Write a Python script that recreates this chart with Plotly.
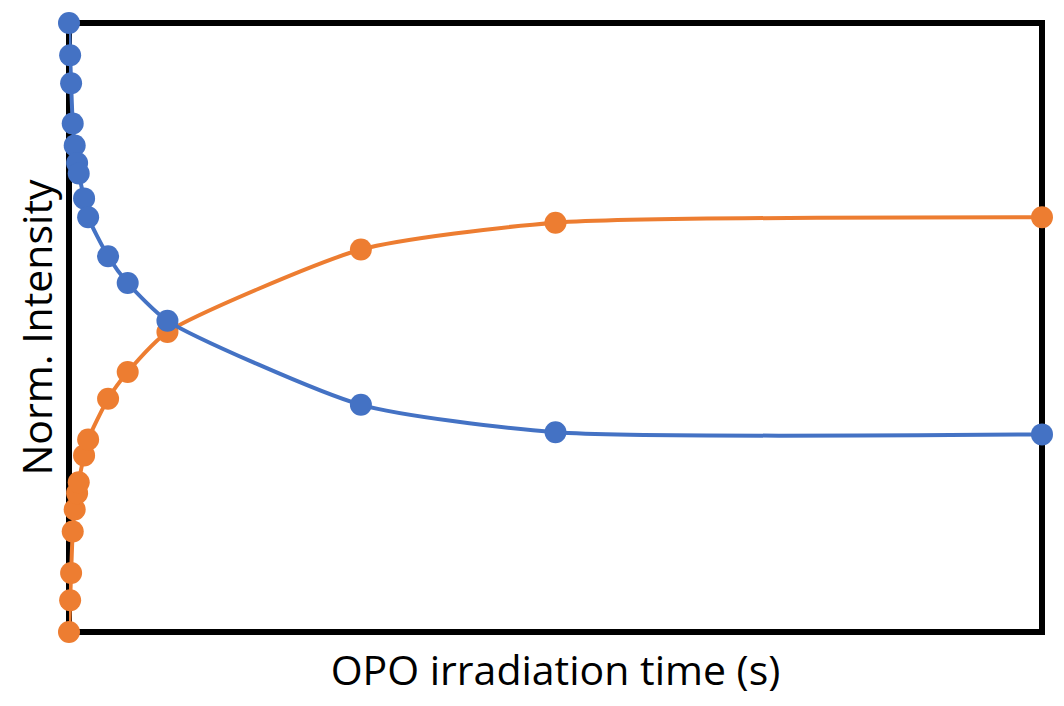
import plotly.graph_objects as go

# irradiation time (s)
time_s = [0, 0.7, 1.3, 2.3, 3.5, 5.0, 6.0, 9.3, 11.8, 24.1, 36.2, 60.7, 180, 300, 600]
# normalized intensity, decaying species (blue)
blue_vals = [1.0, 0.947, 0.901, 0.835, 0.799, 0.770, 0.753, 0.712, 0.681, 0.617, 0.573, 0.511, 0.373, 0.328, 0.3245]
# normalized intensity, growing species (orange)
orange_vals = [0.0, 0.052, 0.097, 0.165, 0.201, 0.228, 0.246, 0.290, 0.316, 0.383, 0.427, 0.4925, 0.628, 0.672, 0.681]

x_title = "OPO irradiation time (s)"
y_title = "Norm. Intensity"

BLUE = "#4472C4"
ORANGE = "#ED7D31"
FONT = "'Open Sans', Lato, sans-serif"

fig = go.Figure()
for vals, col in [(orange_vals, ORANGE), (blue_vals, BLUE)]:
    fig.add_trace(go.Scatter(
        x=time_s, y=vals, mode="lines+markers",
        line=dict(color=col, width=4, shape="spline", smoothing=0.6),
        marker=dict(color=col, size=22),
        cliponaxis=False, showlegend=False,
    ))

fig.add_shape(type="rect", xref="paper", yref="paper", x0=0, y0=0, x1=1, y1=1,
              line=dict(color="black", width=6), layer="below")

fig.update_layout(
    width=1064, height=706,
    margin=dict(l=61, r=30, t=15, b=82, autoexpand=False),
    paper_bgcolor="white", plot_bgcolor="white",
    font=dict(family=FONT, color="black"),
    xaxis=dict(range=[0, 600], showgrid=False, zeroline=False, showticklabels=False,
               ticks="", showline=False,
               title=dict(text=x_title, font=dict(size=41, family=FONT), standoff=24)),
    yaxis=dict(range=[0, 1], showgrid=False, zeroline=False, showticklabels=False,
               ticks="", showline=False,
               title=dict(text=y_title, font=dict(size=41, family=FONT), standoff=4)),
)

fig.write_html("out.html")
